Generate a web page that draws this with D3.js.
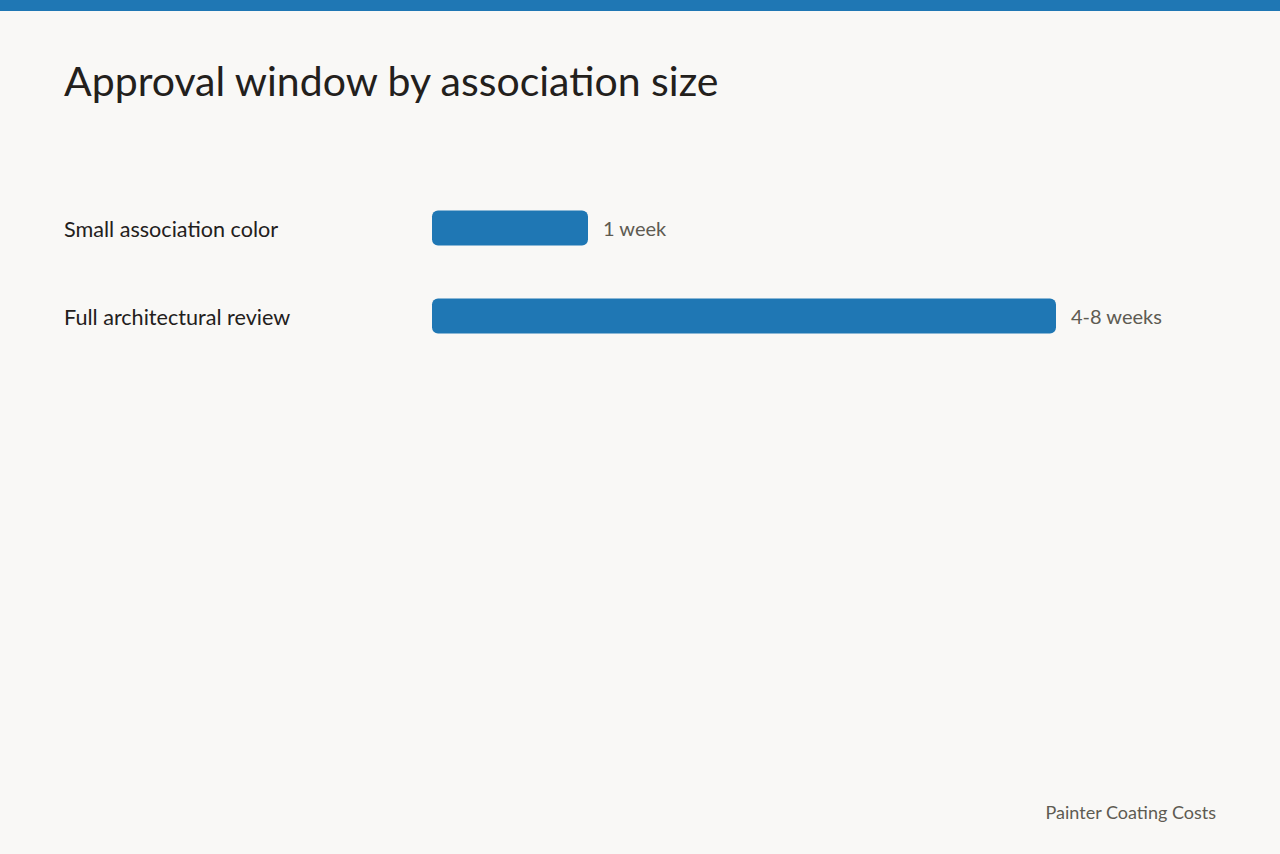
<!DOCTYPE html>
<html>
<head>
<meta charset="utf-8">
<script src="https://cdn.jsdelivr.net/npm/d3@7"></script>
<style>
html,body{margin:0;padding:0;background:#f9f8f6;}
svg{display:block;}
</style>
</head>
<body>
<script>
const categories = ["Small association color", "Full architectural review"];
const values = [1, 4];
const valueLabels = ["1 week", "4-8 weeks"];
const title = "Approval window by association size";
const source = "Painter Coating Costs";

const W = 1280, H = 854;
const font = "Lato, 'Source Sans Pro', sans-serif";
const svg = d3.select("body").append("svg").attr("width", W).attr("height", H);
svg.append("rect").attr("width", W).attr("height", H).attr("fill", "#f9f8f6");
svg.append("rect").attr("width", W).attr("height", 11).attr("fill", "#1f77b4");

svg.append("text").attr("x", 64).attr("y", 96).text(title)
  .attr("font-family", font).attr("font-size", 41).attr("fill", "#23201c");

const x = d3.scaleLinear().domain([0, 4]).range([432, 1056]);
const y = d3.scalePoint().domain(categories).range([228, 316]);
const bh = 35;

const rows = svg.selectAll("g.row").data(categories).join("g").attr("class", "row");
rows.append("text").attr("x", 64).attr("y", d => y(d) + 1).attr("dy", "0.35em")
  .text(d => d).attr("font-family", font).attr("font-size", 21.6).attr("fill", "#23201c");
rows.append("rect").attr("x", x(0)).attr("y", d => y(d) - bh / 2)
  .attr("width", (d, i) => x(values[i]) - x(0)).attr("height", bh)
  .attr("rx", 6).attr("fill", "#1f77b4");
rows.append("text").attr("x", (d, i) => x(values[i]) + 15).attr("y", d => y(d) + 1).attr("dy", "0.35em")
  .text((d, i) => valueLabels[i]).attr("font-family", font).attr("font-size", 20).attr("fill", "#5e5b52");

svg.append("text").attr("x", 1216).attr("y", 819).attr("text-anchor", "end").text(source)
  .attr("font-family", font).attr("font-size", 18).attr("fill", "#5e5b52");
</script>
</body>
</html>
